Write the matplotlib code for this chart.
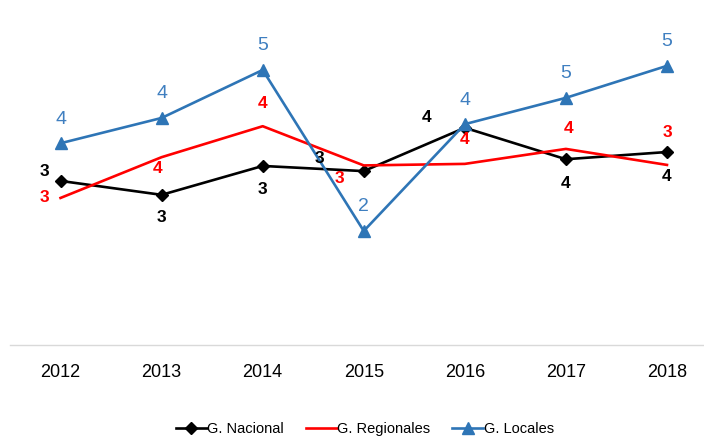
import matplotlib.pyplot as plt

plt.rcParams['font.family'] = ['Liberation Sans', 'DejaVu Sans']

years = ['2012', '2013', '2014', '2015', '2016', '2017', '2018']
nacional = [3.18, 2.91, 3.47, 3.37, 4.21, 3.60, 3.74]
regionales = [2.85, 3.64, 4.24, 3.48, 3.51, 3.80, 3.49]
locales = [3.91, 4.40, 5.33, 2.21, 4.28, 4.79, 5.41]

# label offsets in pixels (dx, dy) relative to each point
off_nac = [(-16, 9), (0, -23), (0, -24), (-44, 13), (-38, 10), (0, -24), (0, -24)]
off_reg = [(-16, 0), (-4, -11), (0, 23), (-24, -13), (0, 24), (3, 20), (0, 32)]
off_loc = [(0, 24)] * 7

fig = plt.figure(figsize=(7.04, 4.37), dpi=100)
ax = fig.add_axes([10 / 704, 92 / 437, 694 / 704, 345 / 437])

x = list(range(len(years)))
ax.plot(x, nacional, color='black', lw=1.9, marker='D', ms=6, label='G. Nacional')
ax.plot(x, regionales, color='#FF0000', lw=1.9, label='G. Regionales')
ax.plot(x, locales, color='#2E75B6', lw=1.9, marker='^', ms=8, label='G. Locales')


def add_labels(vals, offs, color, weight, size):
    for i, v in enumerate(vals):
        ax.annotate(f"{v:.0f}", (i, v), xytext=offs[i], textcoords='offset pixels',
                    ha='center', va='center', color=color, fontweight=weight, fontsize=size)


add_labels(nacional, off_nac, 'black', 'bold', 12.5)
add_labels(regionales, off_reg, '#FF0000', 'bold', 12.5)
add_labels(locales, off_loc, '#3F7FC0', 'normal', 14)

ax.set_xlim(-0.5, (704 - 61) / 101)
ax.set_ylim(0, 345 / 51.6)
ax.set_xticks(x)
ax.set_xticklabels(years, fontsize=13)
ax.tick_params(axis='x', length=0, pad=14)
ax.set_yticks([])
for s in ['top', 'right', 'left']:
    ax.spines[s].set_visible(False)
ax.spines['bottom'].set_color('#D9D9D9')
ax.spines['bottom'].set_linewidth(1)

fig.legend(loc='center', bbox_to_anchor=(365 / 704, 8 / 437), ncol=3, frameon=False,
           fontsize=10.5, handlelength=2.1, handletextpad=0.05, columnspacing=1.5)

fig.savefig('out.png', dpi=100)
